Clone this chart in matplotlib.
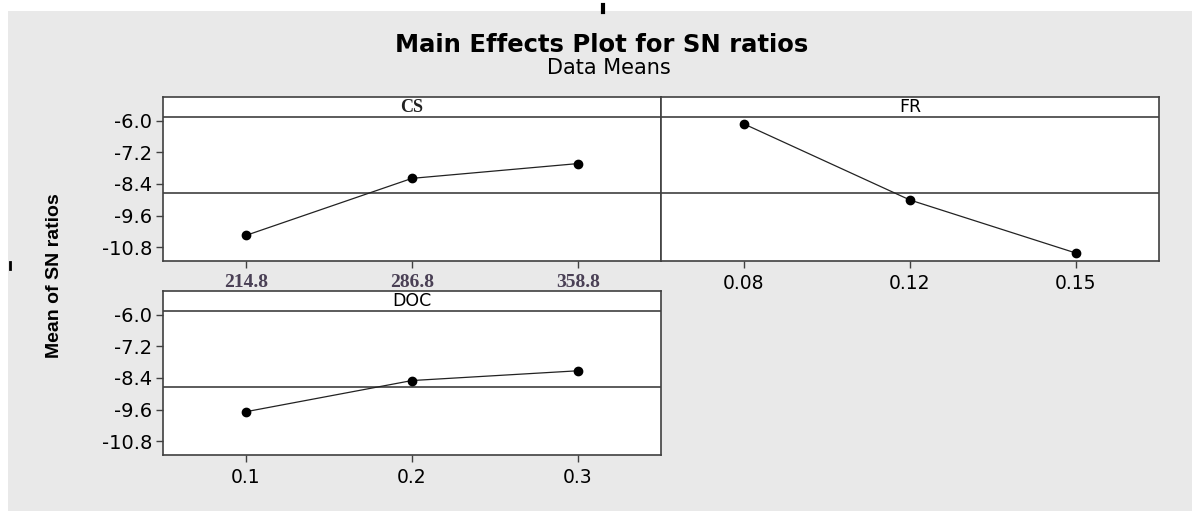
import numpy as np
import matplotlib.pyplot as plt
from matplotlib.lines import Line2D
from matplotlib.patches import Rectangle

# Data
cs_levels = ['214.8', '286.8', '358.8']
cs_sn = [-10.35, -8.19, -7.63]

fr_levels = ['0.08', '0.12', '0.15']
fr_sn = [-6.13, -9.01, -11.02]

doc_levels = ['0.1', '0.2', '0.3']
doc_sn = [-9.68, -8.50, -8.13]

grand_mean = -8.75
y_ticks = [-6.0, -7.2, -8.4, -9.6, -10.8]

W, H = 1192, 511
fig = plt.figure(figsize=(W / 100, H / 100), dpi=100)
fig.patch.set_facecolor('white')

# gray canvas like the Minitab window
fig.patches.append(Rectangle((8 / W, 0), 1 - 8 / W, 1 - 11 / H, transform=fig.transFigure,
                             facecolor='#e9e9e9', edgecolor='none', zorder=-5))
# small stray marks in the scan
fig.add_artist(Line2D([603 / W, 603 / W], [1 - 5 / H, 1 - 12 / H], color='black', lw=3))
fig.add_artist(Line2D([9.5 / W, 9.5 / W], [1 - 262 / H, 1 - 269 / H], color='black', lw=2))

edge = '#404040'
ylim = (-11.32, -5.12)
strip_y = -5.86

def panel(rect, levels, values, name, show_y, serif=False):
    ax = fig.add_axes(rect)
    x = np.arange(len(levels))
    ax.plot(x, values, color='#222222', lw=0.9, marker='o', ms=6,
            mfc='black', mec='black', zorder=3)
    ax.axhline(grand_mean, color=edge, lw=1.2, zorder=2)
    ax.axhline(strip_y, color=edge, lw=1.2, zorder=2)
    ax.set_xlim(-0.5, len(levels) - 0.5)
    ax.set_ylim(*ylim)
    ax.set_xticks(x)
    if serif:
        ax.set_xticklabels(levels, family='Liberation Serif', fontweight='bold',
                           fontsize=14, color='#4a4055')
        ax.text(1, (strip_y + ylim[1]) / 2, name, ha='center', va='center',
                family='Liberation Serif', fontweight='bold', fontsize=13, color='#222222')
    else:
        ax.set_xticklabels(levels, fontsize=13.5)
        ax.text(1, (strip_y + ylim[1]) / 2, name, ha='center', va='center', fontsize=12.5)
    ax.set_yticks(y_ticks)
    if show_y:
        ax.set_yticklabels(['%.1f' % v for v in y_ticks], fontsize=14)
        ax.tick_params(axis='y', length=5, width=1, color=edge, pad=3)
    else:
        ax.tick_params(axis='y', length=0, labelleft=False)
    ax.tick_params(axis='x', length=5, width=1, color=edge, pad=4)
    for s in ax.spines.values():
        s.set_color(edge)
        s.set_linewidth(1.2)
    ax.set_facecolor('white')
    return ax

pw = 498 / W
ph = 163.7 / H
panel([163 / W, 1 - 261 / H, pw, ph], cs_levels, cs_sn, 'CS', True, serif=True)
panel([661 / W, 1 - 261 / H, pw, ph], fr_levels, fr_sn, 'FR', False)
panel([163 / W, 1 - 455 / H, pw, ph], doc_levels, doc_sn, 'DOC', True)

fig.text(602 / W, 1 - 45 / H, 'Main Effects Plot for SN ratios', ha='center', va='center',
         fontsize=17.5, fontweight='bold')
fig.text(609 / W, 1 - 68 / H, 'Data Means', ha='center', va='center', fontsize=15)
fig.text(55 / W, 1 - 276 / H, 'Mean of SN ratios', rotation=90, ha='center', va='center',
         fontsize=14, fontweight='bold', family='Liberation Sans')

fig.savefig('out.png', dpi=100)
